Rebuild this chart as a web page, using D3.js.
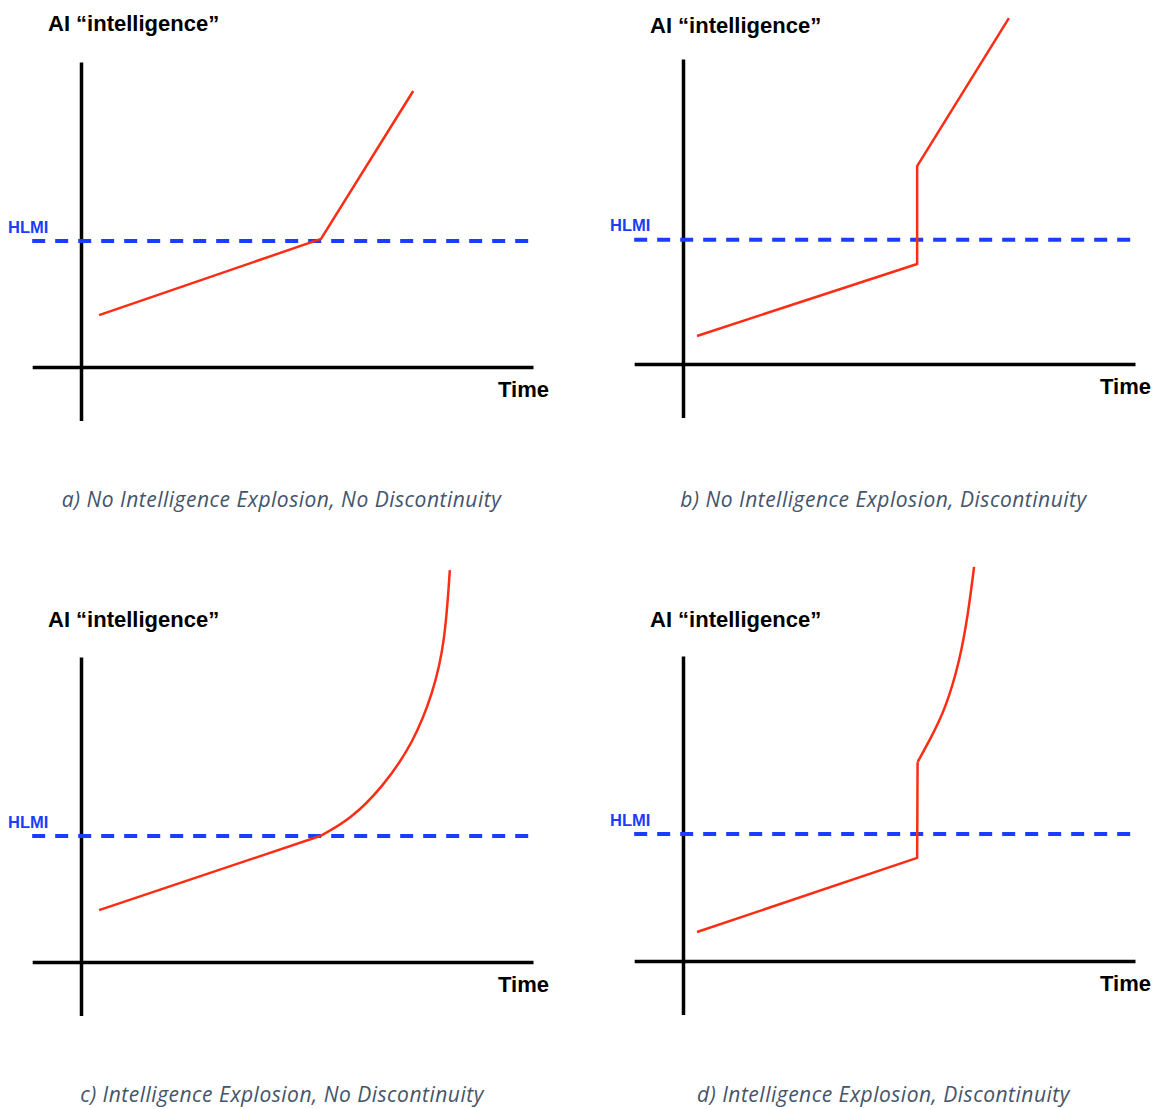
<!DOCTYPE html>
<html>
<head>
<meta charset="utf-8">
<script src="https://cdn.jsdelivr.net/npm/d3@7"></script>
<style>
  body { margin: 0; background: #fff; }
  svg { display: block; }
  .title, .xlabel { font-family: "Liberation Sans", Arial, sans-serif; font-weight: bold; fill: #000; }
  .hlmi { font-family: "Liberation Sans", Arial, sans-serif; font-weight: bold; fill: #1a3dff; }
  .caption { font-family: "Open Sans", Lato, sans-serif; font-style: italic; fill: #44546a; }
</style>
</head>
<body>
<svg id="chart"></svg>
<script>
// chart data (time / intelligence in arbitrary units, HLMI level per panel)
var captions = [
    "a) No Intelligence Explosion, No Discontinuity",
    "b) No Intelligence Explosion, Discontinuity",
    "c) Intelligence Explosion, No Discontinuity",
    "d) Intelligence Explosion, Discontinuity"
];
var yTitle = "AI \u201cintelligence\u201d";
var xTitle = "Time";
var hlmiName = "HLMI";
var hlmiLevels = [41.3, 40.7, 41.3, 41.6];
var timeExtent = [-10.8, 100];
var intelExtent = [-17.5, 100];

// straight parts of each curve
var linesA = [[4.0, 17.0], [53.1, 42.0], [73.5, 90.5]];
var linesB = [[3.1, 9.2], [51.8, 32.8], [51.8, 64.9], [72.1, 113.4]];
var linesC = [[4.0, 17.0], [52.9, 41.3]];
var linesD = [[3.1, 9.5], [51.8, 33.8], [51.9, 65.2]];
// explosion parts (smooth)
var curveC = [[52.9, 41.3], [59.5, 46.6], [66.8, 57.4], [73.5, 71.8], [77.9, 88.2], [80.5, 104.6], [81.6, 128.5]];
var curveD = [[51.9, 65.2], [54.6, 72.5], [58.0, 82.3], [61.3, 98.7], [63.1, 114.1], [64.4, 129.2]];

var width = 1154,
    height = 1109;

var svg = d3.select('#chart')
    .attr('width', width)
    .attr('height', height);

// layout of the 4 panels
var panels = [
    { ox: 81,  oy: 367, titleY: 31,  capX: 281.5, capY: 507,  lines: linesA, curve: null },
    { ox: 683, oy: 364, titleY: 33,  capX: 883.5, capY: 507,  lines: linesB, curve: null },
    { ox: 81,  oy: 962, titleY: 627, capX: 282,   capY: 1102, lines: linesC, curve: curveC },
    { ox: 683, oy: 961, titleY: 627, capX: 883.5, capY: 1102, lines: linesD, curve: curveD }
];

var kx = 4.52,
    ky = 3.05;

panels.forEach(function (p, i) {
    var g = svg.append('g');

    var x = d3.scaleLinear()
        .domain(timeExtent)
        .range([p.ox + timeExtent[0] * kx, p.ox + timeExtent[1] * kx]);

    var y = d3.scaleLinear()
        .domain(intelExtent)
        .range([p.oy - intelExtent[0] * ky, p.oy - intelExtent[1] * ky]);

    // axes: just the domain lines, no ticks
    g.append('g')
        .attr('class', 'x axis')
        .attr('transform', 'translate(0,' + y(0) + ')')
        .call(d3.axisBottom(x).tickValues([]).tickSizeOuter(0));

    g.append('g')
        .attr('class', 'y axis')
        .attr('transform', 'translate(' + x(0) + ',0)')
        .call(d3.axisLeft(y).tickValues([]).tickSizeOuter(0));

    g.selectAll('.axis path')
        .attr('stroke', '#000')
        .attr('stroke-width', 3.5)
        .attr('stroke-linecap', 'butt');

    // HLMI dashed line
    g.append('line')
        .attr('x1', x(timeExtent[0]))
        .attr('x2', x(timeExtent[1]))
        .attr('y1', y(hlmiLevels[i]))
        .attr('y2', y(hlmiLevels[i]))
        .attr('stroke', '#1a3dff')
        .attr('stroke-width', 4)
        .attr('stroke-dasharray', '13,10');

    g.append('text')
        .attr('class', 'hlmi')
        .attr('x', p.ox - 73)
        .attr('y', y(hlmiLevels[i]) - 8.5)
        .style('font-size', '16.5px')
        .text(hlmiName);

    // red trajectory
    var line = d3.line()
        .x(function (d) { return x(d[0]); })
        .y(function (d) { return y(d[1]); });

    g.append('path')
        .datum(p.lines)
        .attr('d', line)
        .attr('fill', 'none')
        .attr('stroke', '#fb2d14')
        .attr('stroke-width', 2.5)
        .attr('stroke-linejoin', 'round');

    if (p.curve) {
        g.append('path')
            .datum(p.curve)
            .attr('d', line.curve(d3.curveBasis))
            .attr('fill', 'none')
            .attr('stroke', '#fb2d14')
            .attr('stroke-width', 2.5);
    }

    // labels
    g.append('text')
        .attr('class', 'title')
        .attr('x', p.ox - 33)
        .attr('y', p.titleY)
        .style('font-size', '22px')
        .text(yTitle);

    g.append('text')
        .attr('class', 'xlabel')
        .attr('x', p.ox + 417)
        .attr('y', p.oy + 29.5)
        .style('font-size', '22px')
        .text(xTitle);

    g.append('text')
        .attr('class', 'caption')
        .attr('x', p.capX)
        .attr('y', p.capY)
        .attr('text-anchor', 'middle')
        .style('font-size', '21px')
        .style('letter-spacing', '0.5px')
        .text(captions[i]);
});
</script>
</body>
</html>
